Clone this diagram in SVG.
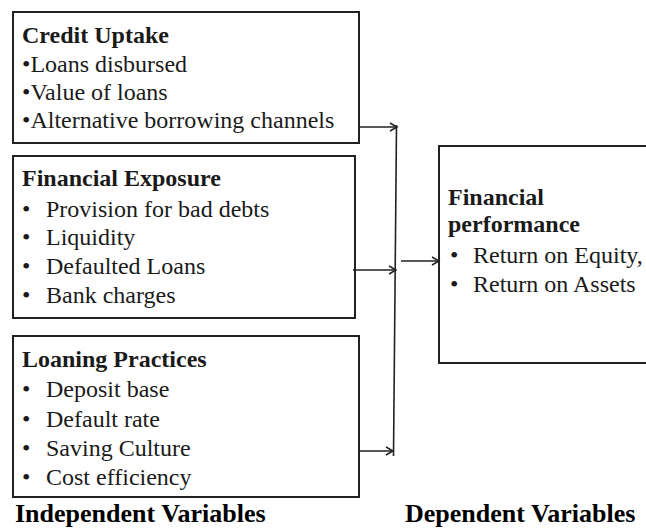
<svg xmlns="http://www.w3.org/2000/svg" width="646" height="531" viewBox="0 0 646 531">
<defs>
<marker id="ah" markerWidth="10" markerHeight="10" refX="8" refY="5" orient="auto" markerUnits="userSpaceOnUse">
<path d="M1,1 L8,5 L1,9" fill="none" stroke="#222" stroke-width="1.5"/>
</marker>
</defs>
<rect width="646" height="531" fill="#fff"/>
<g id="credit-uptake" font-family="Liberation Serif, serif" font-size="24" fill="#1a1a1a">
<rect x="13" y="12" width="346" height="131" fill="#fff" stroke="#222" stroke-width="2"/>
<text font-weight="bold" x="22" y="43">Credit Uptake</text>
<text x="22" y="72">•Loans disbursed</text>
<text x="22" y="100">•Value of loans</text>
<text x="22" y="128">•Alternative borrowing channels</text>
</g>
<g id="financial-exposure" font-family="Liberation Serif, serif" font-size="24" fill="#1a1a1a">
<rect x="13" y="156" width="342" height="162" fill="#fff" stroke="#222" stroke-width="2"/>
<text font-weight="bold" x="22" y="186">Financial Exposure</text>
<text x="22" y="217">•</text><text x="46" y="217">Provision for bad debts</text>
<text x="22" y="245">•</text><text x="46" y="245">Liquidity</text>
<text x="22" y="274">•</text><text x="46" y="274">Defaulted Loans</text>
<text x="22" y="303">•</text><text x="46" y="303">Bank charges</text>
</g>
<g id="loaning-practices" font-family="Liberation Serif, serif" font-size="24" fill="#1a1a1a">
<rect x="13" y="336" width="346" height="161" fill="#fff" stroke="#222" stroke-width="2"/>
<text font-weight="bold" x="22" y="367">Loaning Practices</text>
<text x="22" y="397">•</text><text x="46" y="397">Deposit base</text>
<text x="22" y="427">•</text><text x="46" y="427">Default rate</text>
<text x="22" y="456">•</text><text x="46" y="456">Saving Culture</text>
<text x="22" y="485">•</text><text x="46" y="485">Cost efficiency</text>
</g>
<g id="financial-performance" font-family="Liberation Serif, serif" font-size="24" fill="#1a1a1a">
<rect x="439" y="146" width="220" height="217" fill="#fff" stroke="#222" stroke-width="2"/>
<text font-weight="bold" x="448" y="205">Financial</text>
<text font-weight="bold" x="448" y="232">performance</text>
<text x="450" y="263">•</text><text x="473" y="263">Return on Equity,</text>
<text x="450" y="292">•</text><text x="473" y="292">Return on Assets</text>
</g>
<g id="connectors" stroke="#222" stroke-width="1.6" fill="none">
<line x1="396.5" y1="125" x2="393.5" y2="456"/>
<line x1="359" y1="127" x2="397" y2="127" marker-end="url(#ah)"/>
<line x1="353" y1="270" x2="396" y2="270" marker-end="url(#ah)"/>
<line x1="359" y1="451" x2="393" y2="451" marker-end="url(#ah)"/>
<line x1="401" y1="261" x2="439" y2="261" marker-end="url(#ah)"/>
</g>
<g id="labels" font-family="Liberation Serif, serif" font-size="26" font-weight="bold" fill="#000">
<text x="15" y="522">Independent Variables</text>
<text x="405" y="522">Dependent Variables</text>
</g>
</svg>
